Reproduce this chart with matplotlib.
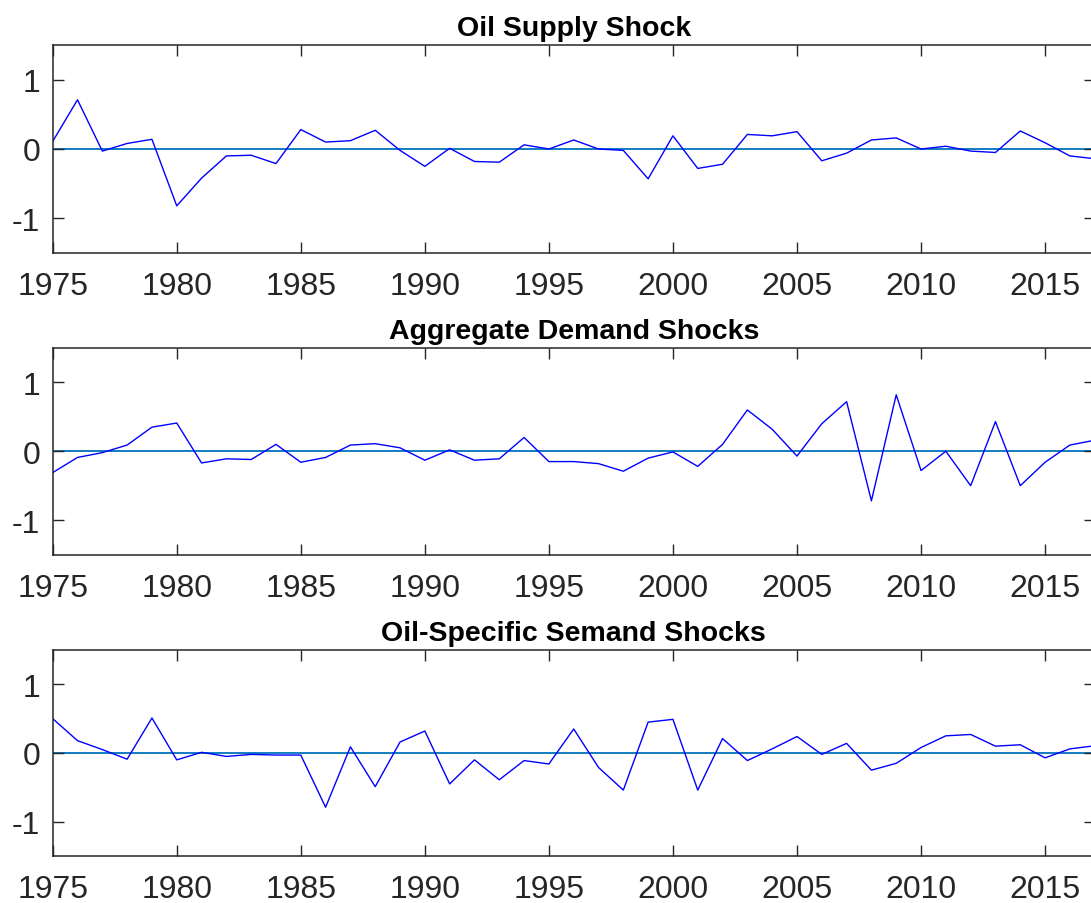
import matplotlib
matplotlib.use("Agg")
import matplotlib.pyplot as plt
import numpy as np

years = list(range(1975, 2018))

oil_supply = [0.11, 0.71, -0.03, 0.08, 0.14, -0.82, -0.42, -0.10, -0.09, -0.21,
              0.28, 0.10, 0.12, 0.27, -0.02, -0.25, 0.01, -0.18, -0.19, 0.06,
              0.00, 0.13, 0.00, -0.02, -0.43, 0.19, -0.28, -0.22, 0.21, 0.19,
              0.25, -0.17, -0.06, 0.13, 0.16, 0.00, 0.04, -0.03, -0.05, 0.26,
              0.09, -0.10, -0.14]

agg_demand = [-0.31, -0.09, -0.02, 0.09, 0.35, 0.41, -0.17, -0.11, -0.12, 0.10,
              -0.16, -0.09, 0.09, 0.11, 0.05, -0.13, 0.02, -0.13, -0.11, 0.20,
              -0.15, -0.15, -0.18, -0.29, -0.10, -0.01, -0.22, 0.10, 0.60, 0.32,
              -0.07, 0.40, 0.72, -0.72, 0.82, -0.28, 0.00, -0.50, 0.43, -0.50,
              -0.16, 0.09, 0.16]

oil_specific = [0.50, 0.18, 0.05, -0.09, 0.51, -0.10, 0.01, -0.05, -0.02, -0.03,
                -0.03, -0.79, 0.09, -0.49, 0.16, 0.32, -0.45, -0.10, -0.39, -0.11,
                -0.16, 0.35, -0.21, -0.54, 0.45, 0.49, -0.54, 0.21, -0.11, 0.06,
                0.24, -0.02, 0.14, -0.25, -0.15, 0.08, 0.25, 0.27, 0.10, 0.12,
                -0.07, 0.06, 0.105]

titles = ["Oil Supply Shock", "Aggregate Demand Shocks", "Oil-Specific Semand Shocks"]
series = [oil_supply, agg_demand, oil_specific]
xticks = list(range(1975, 2020, 5))
yticks = [-1, 0, 1]

plt.rcParams['font.family'] = ['Liberation Sans', 'DejaVu Sans']
plt.rcParams['axes.unicode_minus'] = False

fig = plt.figure(figsize=(10.91, 9.04), dpi=100)
W, H = 1091.0, 904.0
left_px, right_px = 52.7, 1094.7
panels_px = [(46, 254), (349, 555.5), (651, 857)]
axcol = '#262626'

for (top, bot), title, vals in zip(panels_px, titles, series):
    ax = fig.add_axes([left_px / W, 1 - bot / H, (right_px - left_px) / W, (bot - top) / H])
    ax.axhline(0, color='#0072BD', lw=1.3, zorder=1)
    ax.plot(years, vals, color='#0000FF', lw=1.0, zorder=2)
    ax.set_xlim(1975, 2017)
    ax.set_ylim(-1.5, 1.5)
    ax.set_xticks(xticks)
    ax.set_yticks(yticks)
    ax.set_yticklabels([str(v) for v in yticks])
    ax.tick_params(direction='in', length=7.7, width=1.0, color=axcol,
                   labelsize=23, labelcolor=axcol, top=True, right=True)
    ax.tick_params(axis='x', pad=13)
    ax.tick_params(axis='y', pad=9)
    for sp in ax.spines.values():
        sp.set_color(axcol)
        sp.set_linewidth(1.1)
    ax.set_title(title, fontsize=20.5, fontweight='bold', color='black', pad=7)

fig.savefig("out.png", dpi=100)
